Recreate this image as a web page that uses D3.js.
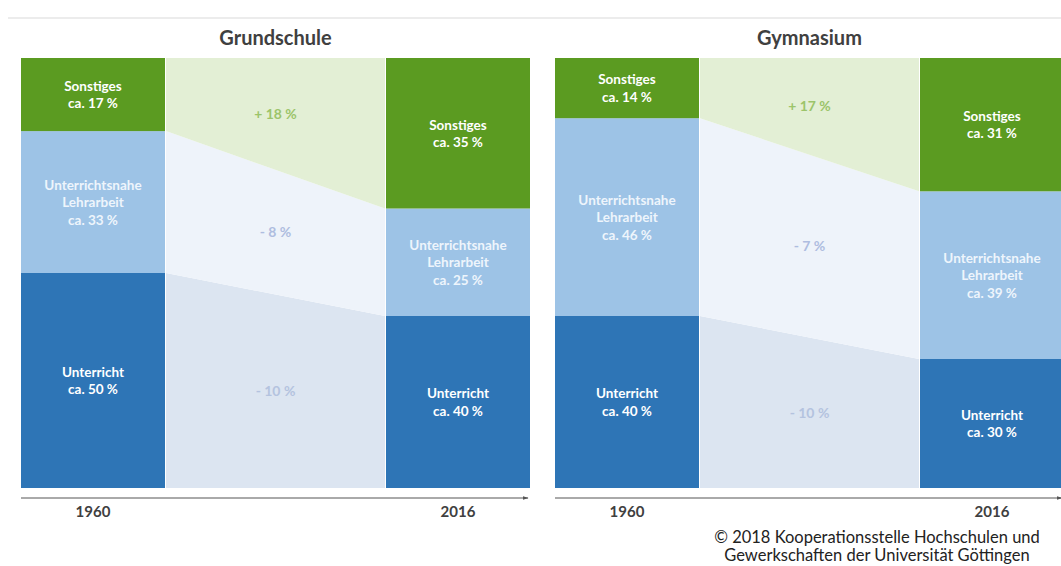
<!DOCTYPE html>
<html>
<head>
<meta charset="utf-8">
<script src="https://cdn.jsdelivr.net/npm/d3@7"></script>
<style>
  body { margin: 0; background: #fff; }
  text { font-family: Lato, "Open Sans", sans-serif; }
</style>
</head>
<body>
<div id="container"></div>
<script>
let w = 1061;
let h = 566;

// DATA
let panels = ["Grundschule", "Gymnasium"];
let years = ["1960", "2016"];
let categories = ["Unterricht", "Unterrichtsnahe Lehrarbeit", "Sonstiges"];
let grundschule1960 = [50, 33, 17];
let grundschule2016 = [40, 25, 35];
let gymnasium1960 = [40, 46, 14];
let gymnasium2016 = [30, 39, 31];
let copyright = ["© 2018 Kooperationsstelle Hochschulen und", "Gewerkschaften der Universität Göttingen"];

let panelValues = {
  "Grundschule": [grundschule1960, grundschule2016],
  "Gymnasium": [gymnasium1960, gymnasium2016]
};

let barColors = ["#2e75b6", "#9dc3e6", "#5b9b21"];
let bandColors = ["#dce5f1", "#eef3fa", "#e3efd5"];
let bandText = ["#b4c3df", "#aebde0", "#9cc46a"];
let labelFill = ["#ffffff", "#eef5fc", "#ffffff"];

let viz = d3.select("#container").append("svg")
  .attr("width", w)
  .attr("height", h)
  .style("display", "block");

// faint top rule
viz.append("line")
  .attr("x1", 8).attr("x2", w)
  .attr("y1", 18).attr("y2", 18)
  .attr("stroke", "#e6e6e6")
  .attr("stroke-width", 1.5);

let panelW = 509;
let panelX = d3.scaleOrdinal().domain(panels).range([21, 555]);

let yearScale = d3.scaleBand().domain(years).range([0, panelW]).paddingInner(0.6055);
let y = d3.scaleLinear().domain([0, 100]).range([488, 58]);

let defs = viz.append("defs");
defs.append("marker")
  .attr("id", "arrow")
  .attr("viewBox", "0 0 10 10")
  .attr("refX", 9).attr("refY", 5)
  .attr("markerWidth", 6).attr("markerHeight", 6)
  .attr("orient", "auto")
  .append("path")
  .attr("d", "M0,2 L10,5 L0,8 Z")
  .attr("fill", "#555");

let stack = d3.stack().keys([0, 1, 2]);

panels.forEach(function (panel) {
  let g = viz.append("g").attr("transform", "translate(" + panelX(panel) + ",0)");
  let vals = panelValues[panel];
  let series = stack(vals); // series[k][yearIndex] = [y0, y1]

  // title
  g.append("text")
    .attr("x", panelW / 2)
    .attr("y", 45)
    .attr("text-anchor", "middle")
    .attr("font-size", 20)
    .attr("font-weight", "bold")
    .attr("fill", "#404040")
    .text(panel);

  let xl = yearScale("1960") + yearScale.bandwidth() + 1;
  let xr = yearScale("2016") - 1;

  // connecting bands
  series.forEach(function (s, k) {
    let a = s[0], b = s[1];
    let pts = [[xl, y(a[1])], [xr, y(b[1])], [xr, y(b[0])], [xl, y(a[0])]];
    g.append("path")
      .attr("d", "M" + pts.join("L") + "Z")
      .attr("fill", bandColors[k]);

    let diff = vals[1][k] - vals[0][k];
    let midY = (y(a[0]) + y(a[1]) + y(b[0]) + y(b[1])) / 4;
    g.append("text")
      .attr("x", (xl + xr) / 2)
      .attr("y", midY + 5)
      .attr("text-anchor", "middle")
      .attr("font-size", 14)
      .attr("font-weight", "bold")
      .attr("fill", bandText[k])
      .text((diff > 0 ? "+" : "-") + " " + Math.abs(diff) + " %");
  });

  // bars
  years.forEach(function (yr, i) {
    series.forEach(function (s, k) {
      let d = s[i];
      g.append("rect")
        .attr("x", yearScale(yr))
        .attr("y", y(d[1]))
        .attr("width", yearScale.bandwidth())
        .attr("height", y(d[0]) - y(d[1]))
        .attr("fill", barColors[k]);

      let lines = categories[k] == "Unterrichtsnahe Lehrarbeit"
        ? ["Unterrichtsnahe", "Lehrarbeit"] : [categories[k]];
      lines = lines.concat(["ca. " + vals[i][k] + " %"]);
      let cy = (y(d[0]) + y(d[1])) / 2;
      let lh = 17.5;
      let t = g.append("text")
        .attr("text-anchor", "middle")
        .attr("font-size", 13.5)
        .attr("font-weight", "bold")
        .attr("fill", labelFill[k]);
      lines.forEach(function (ln, j) {
        t.append("tspan")
          .attr("x", yearScale(yr) + yearScale.bandwidth() / 2)
          .attr("y", cy + (j - (lines.length - 1) / 2) * lh + 5)
          .text(ln);
      });
    });
  });

  // axis
  let axis = g.append("g")
    .attr("transform", "translate(0,498)")
    .call(d3.axisBottom(yearScale).tickSize(0).tickPadding(8));
  axis.select(".domain").remove();
  axis.selectAll("text")
    .attr("font-family", "Lato, sans-serif")
    .attr("font-size", 15)
    .attr("font-weight", "bold")
    .attr("fill", "#404040");

  g.append("line")
    .attr("x1", 0).attr("x2", panelW - 2)
    .attr("y1", 498).attr("y2", 498)
    .attr("stroke", "#555")
    .attr("stroke-width", 1)
    .attr("marker-end", "url(#arrow)");
});

// copyright
viz.selectAll(".copy").data(copyright).enter()
  .append("text")
  .attr("class", "copy")
  .attr("x", 877)
  .attr("y", function (d, i) { return 543 + i * 18; })
  .attr("text-anchor", "middle")
  .attr("font-size", 16.5)
  .attr("fill", "#222")
  .text(function (d) { return d; });
</script>
</body>
</html>
